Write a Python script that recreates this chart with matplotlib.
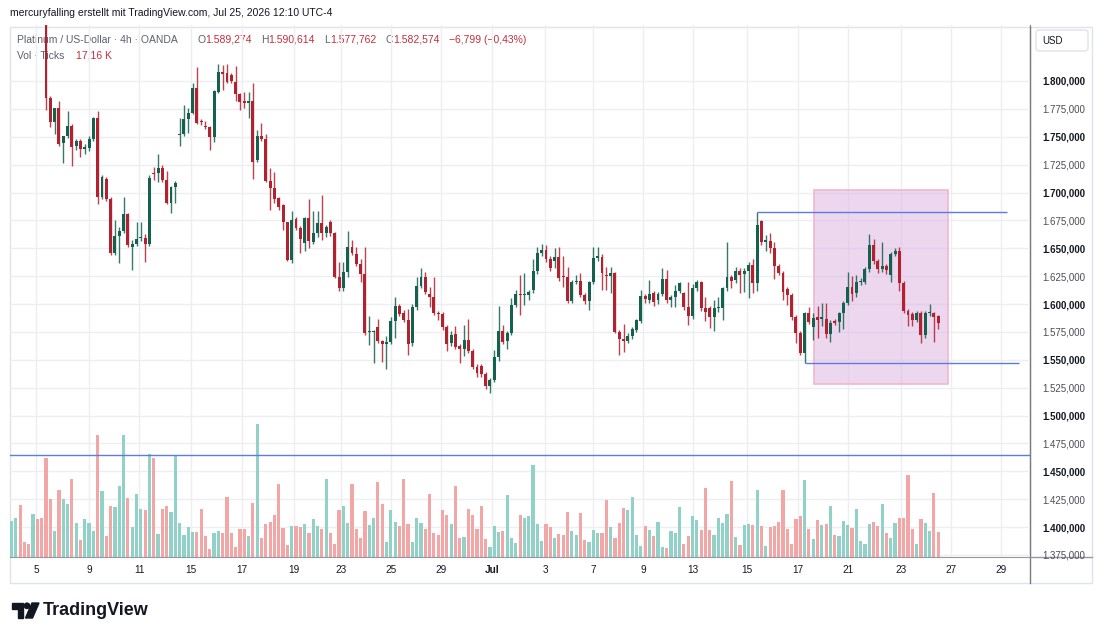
import numpy as np
import matplotlib
matplotlib.use("Agg")
import matplotlib.pyplot as plt
from matplotlib.patches import Rectangle, FancyBboxPatch, Polygon, Circle
from matplotlib.transforms import blended_transform_factory

plt.rcParams['font.family'] = ['Liberation Sans', 'DejaVu Sans']

# ---- 4h candles (price in USD) ----
opens = [
    1870, 1878, 1886, 1875, 1871, 1868, 1876, 1870, 1862, 1784.5,
    1763.5, 1775.5, 1744, 1750.7, 1759.7, 1741.7, 1746.2, 1738.8, 1739.6, 1748,
    1766.6, 1696.3, 1711.9, 1694.2, 1645.5, 1661, 1665.5, 1681, 1651.4, 1653.6,
    1658.9, 1658.9, 1653.8, 1717.8, 1717.3, 1722.3, 1711.2, 1690.9, 1705.2, 1752,
    1752.5, 1765.9, 1771.6, 1793.4, 1763.5, 1759.7, 1758.5, 1750, 1790.4, 1807.8,
    1807, 1805.4, 1799.4, 1788, 1782, 1780, 1782, 1729.2, 1750.7, 1747.7,
    1710.6, 1704.3, 1694.8, 1688.8, 1673.3, 1639.5, 1676.3, 1668.5, 1654.5, 1677,
    1655.9, 1663.4, 1673, 1663.4, 1673.3, 1663.4, 1624.5, 1614.1, 1628.5, 1651.4,
    1644.6, 1636, 1626.7, 1574.7, 1574.5, 1579.7, 1566.9, 1564, 1565.8, 1585,
    1598.2, 1591.7, 1585.7, 1564.8, 1597.1, 1616.2, 1624, 1609, 1606.6, 1592,
    1591, 1579.2, 1564.8, 1573.2, 1562.4, 1559.4, 1567.8, 1558.2, 1543.8, 1544.5,
    1537.3, 1526.2, 1532, 1552.8, 1575.8, 1567, 1573.8, 1599.2, 1608.7, 1608,
    1608, 1612.6, 1629.7, 1645.5, 1648.5, 1640.4, 1638.9, 1642.5, 1625, 1624.5,
    1602.7, 1620, 1620.7, 1608, 1602.7, 1619.5, 1641, 1642.5, 1626, 1625.2,
    1627.6, 1575.3, 1568.4, 1567.2, 1571, 1576.8, 1585, 1607.3, 1603.6, 1609.6,
    1603.6, 1609, 1622.2, 1603.6, 1606.6, 1612, 1609.6, 1597.1, 1589.3, 1614.7,
    1620, 1596.2, 1596.2, 1588.7, 1596.2, 1596.2, 1614.1, 1624, 1621.6, 1630,
    1627, 1630, 1635, 1618.6, 1674.5, 1655.4, 1656.8, 1650.6, 1634.1, 1628.2,
    1613.5, 1608, 1588.1, 1573.8, 1556.4, 1591.7, 1579.2, 1588.7, 1586.6, 1586.6,
    1573.2, 1585, 1583.7, 1591.7, 1601.2, 1615, 1609.6, 1619.5, 1620, 1631.4,
    1652.9, 1638.9, 1631, 1634, 1626, 1645, 1648, 1619, 1594, 1591,
    1586, 1592.3, 1572.3, 1592.3, 1591.7, 1589.274,
]
highs = [
    1884, 1892, 1890, 1879, 1874, 1880, 1879, 1873, 1866, 1786.5,
    1776, 1782, 1751, 1773, 1761, 1748, 1748, 1743.5, 1751, 1768,
    1773, 1715.7, 1714.2, 1696, 1675.4, 1669.4, 1696.3, 1682, 1657.4, 1673.9,
    1674, 1662.5, 1715.7, 1723.2, 1734.3, 1724.7, 1719.3, 1706, 1710, 1766.6,
    1778.5, 1775.5, 1797.9, 1812.8, 1766, 1764, 1760, 1792, 1815, 1814.3,
    1815, 1807, 1813.5, 1789, 1789.9, 1790, 1798.5, 1756.1, 1762.1, 1752.5,
    1721.7, 1718.7, 1696, 1690, 1674, 1683.7, 1678, 1670, 1678, 1693.9,
    1683.4, 1683.4, 1697.8, 1671, 1675, 1665, 1638, 1638, 1665.5, 1657.4,
    1651, 1640, 1651, 1589.3, 1577, 1586.3, 1568, 1571, 1588, 1606,
    1600, 1595, 1595.6, 1600, 1624.5, 1632, 1628.5, 1615.6, 1624, 1594,
    1593, 1581, 1576, 1580.5, 1564, 1581.2, 1586.3, 1560, 1546, 1546,
    1539, 1534, 1559, 1598.2, 1581, 1576, 1605, 1613, 1626, 1627.6,
    1613, 1640, 1651.4, 1653.8, 1652.5, 1643, 1650, 1651, 1643, 1633.5,
    1622, 1626, 1628, 1610, 1621, 1651.4, 1651.4, 1645, 1633, 1633,
    1629, 1577, 1582, 1574, 1579, 1587, 1612.5, 1609, 1622, 1612,
    1611, 1632, 1630.5, 1608, 1617, 1620, 1611, 1620, 1618, 1621.5,
    1621, 1606, 1598, 1604, 1606, 1615, 1655.4, 1626, 1633, 1632,
    1632, 1638, 1640, 1682.3, 1675.7, 1662, 1664, 1656, 1636, 1630,
    1615, 1610, 1590, 1576, 1593, 1597.1, 1592, 1598, 1600.6, 1600.5,
    1586, 1587, 1593, 1603, 1629, 1625, 1626, 1623, 1633, 1662.5,
    1658, 1640, 1656, 1636, 1647, 1650, 1651, 1621, 1596, 1593,
    1594, 1594, 1594, 1600, 1593, 1590.614,
]
lows = [
    1866, 1874, 1870, 1866, 1864, 1865, 1866, 1858, 1774, 1758.5,
    1752.5, 1741.7, 1726.2, 1749, 1723.8, 1738.1, 1732.1, 1734.5, 1737, 1746,
    1689.4, 1694, 1692.4, 1644, 1644, 1637, 1664, 1651.4, 1630.5, 1652,
    1656.5, 1638, 1652, 1711.2, 1709, 1709.5, 1690, 1681.4, 1690.4, 1741.7,
    1751, 1753, 1770, 1761, 1760.5, 1757, 1738.1, 1745.6, 1789, 1792,
    1798, 1798.5, 1782.4, 1774, 1775.5, 1766.6, 1711.9, 1727, 1746.5, 1709,
    1684.3, 1690.4, 1684, 1666.4, 1639, 1637, 1666, 1645.5, 1647.9, 1650.6,
    1654, 1660, 1657.4, 1660, 1661, 1623, 1612, 1612, 1624.5, 1644,
    1634, 1620, 1572, 1563.3, 1546.9, 1565, 1548.3, 1541.5, 1564, 1569.3,
    1589, 1584, 1554.3, 1562, 1595, 1614, 1609, 1597, 1590, 1585.7,
    1577, 1558.2, 1562, 1560, 1546.9, 1553, 1556, 1542, 1535, 1535,
    1523.9, 1520, 1530, 1549, 1564, 1560, 1572, 1597, 1590.2, 1599.2,
    1604, 1610, 1627, 1643, 1638, 1630, 1632, 1621, 1615, 1601,
    1600.5, 1618, 1606, 1600, 1594.7, 1618, 1639, 1613, 1613, 1609.6,
    1574, 1554.3, 1557, 1565, 1569, 1575, 1583, 1601, 1601, 1598,
    1600, 1607, 1601, 1597, 1597, 1610, 1595, 1581.2, 1587, 1612,
    1594, 1585, 1578.5, 1576.1, 1593, 1585.5, 1612, 1614.5, 1619, 1610,
    1611, 1605, 1610, 1612, 1653, 1648, 1646, 1622.2, 1626, 1604,
    1599.2, 1586, 1565, 1554, 1547.4, 1582, 1568, 1569.9, 1580, 1570,
    1566.3, 1581, 1575, 1578, 1599, 1603, 1606, 1617, 1618, 1629,
    1636, 1628, 1629, 1627, 1620, 1643, 1612, 1592, 1580.3, 1580,
    1584, 1564.8, 1570, 1589, 1566.3, 1577.762,
]
closes = [
    1878, 1886, 1875, 1871, 1868, 1876, 1870, 1862, 1784.5, 1763.5,
    1775.5, 1743.2, 1750.7, 1759.7, 1741.1, 1746.2, 1738.8, 1740.5, 1748, 1766.6,
    1696.3, 1714.2, 1694.2, 1645.5, 1661, 1665.5, 1681, 1653, 1653.6, 1658,
    1659.3, 1653.8, 1712.8, 1716.6, 1722.3, 1711.2, 1690.9, 1704.7, 1708.8, 1752.5,
    1765.9, 1771.6, 1793.4, 1762.6, 1762.8, 1758.5, 1750, 1791, 1807.8, 1806,
    1799.4, 1800.3, 1788, 1781.4, 1780, 1782, 1727.7, 1750.7, 1747.7, 1710.6,
    1704.3, 1694.2, 1686.8, 1673.3, 1639.5, 1675.4, 1668.5, 1658.3, 1677, 1656.6,
    1663.4, 1673, 1663.4, 1669, 1663.4, 1624.5, 1614.1, 1628.5, 1651.4, 1645.5,
    1636, 1626.7, 1573.8, 1575, 1575.5, 1566.9, 1564.2, 1565.8, 1585, 1598.2,
    1590.8, 1585.7, 1564.2, 1597.1, 1616.2, 1624, 1611.1, 1606, 1591.7, 1591,
    1579.2, 1564.2, 1572.3, 1561.9, 1559.4, 1567.8, 1558.2, 1543.8, 1538.5, 1537.3,
    1526.2, 1532, 1552.8, 1575.8, 1566.3, 1573.8, 1599.2, 1608.7, 1607.8, 1608.5,
    1611, 1629.7, 1646.1, 1648.5, 1640.4, 1632, 1642.5, 1623.1, 1624.5, 1602.7,
    1620, 1620.5, 1608, 1602.7, 1619.5, 1641, 1643.5, 1628.2, 1625.2, 1628,
    1575.3, 1568.4, 1567.2, 1571.4, 1577.5, 1585.7, 1607.3, 1604.3, 1609, 1602.1,
    1609, 1622.2, 1603.6, 1606.6, 1612, 1619, 1597.1, 1589.3, 1614.7, 1620,
    1596.2, 1593.2, 1588.7, 1596.2, 1597, 1614.1, 1624, 1620.7, 1630, 1626.1,
    1630, 1635, 1618.6, 1670.5, 1655.4, 1657.4, 1650, 1634.1, 1628.2, 1611,
    1608, 1588.1, 1573.8, 1556.4, 1591.7, 1584.2, 1587.2, 1585.7, 1588, 1573.2,
    1583.3, 1583.3, 1591.7, 1601.2, 1615.6, 1609, 1620, 1620.7, 1631.4, 1652.9,
    1638.9, 1631, 1634, 1630.5, 1645, 1648, 1619, 1594, 1590, 1586,
    1592.3, 1572.3, 1592.3, 1593, 1588.7, 1582.574,
]
# volume in thousand ticks
volumes = [
    24.5, 27.0, 35.7, 10.1, 9.2, 29.5, 26.1, 27.0, 67.6, 39.8,
    17.6, 45.8, 39.6, 36.6, 53.6, 23.4, 11.9, 25.9, 23.4, 17.6,
    83.6, 45.1, 14.2, 35.3, 34.1, 48.5, 84.0, 40.3, 20.4, 43.1,
    33.2, 32.1, 71.0, 67.6, 15.6, 33.2, 35.3, 30.7, 70.3, 23.4,
    14.9, 20.4, 17.2, 17.2, 32.7, 14.2, 5.5, 16.3, 17.6, 16.3,
    41.4, 16.3, 6.6, 19.5, 19.0, 14.2, 37.3, 91.1, 12.8, 22.9,
    23.8, 29.1, 49.9, 19.9, 8.0, 21.3, 21.3, 20.4, 22.9, 16.3,
    25.9, 21.1, 19.0, 53.6, 16.7, 9.2, 32.1, 35.3, 23.4, 49.9,
    19.5, 12.8, 31.6, 21.8, 26.6, 51.3, 36.6, 10.1, 32.1, 23.8,
    21.3, 53.6, 22.9, 10.1, 26.6, 23.4, 19.0, 43.5, 16.3, 15.1,
    32.1, 29.1, 22.4, 48.5, 13.3, 13.7, 32.7, 29.1, 19.0, 35.3,
    12.1, 6.6, 21.3, 16.9, 18.0, 42.4, 13.1, 9.6, 29.1, 27.0,
    27.9, 63.4, 22.4, 11.0, 22.9, 20.4, 13.1, 15.6, 15.3, 31.1,
    17.6, 14.9, 30.5, 11.5, 10.1, 18.3, 16.7, 16.7, 38.9, 20.4,
    13.3, 23.4, 33.7, 32.1, 41.2, 14.9, 7.3, 21.5, 18.8, 14.2,
    23.8, 7.1, 6.4, 17.6, 16.3, 34.6, 8.9, 14.2, 27.9, 25.2,
    18.3, 47.6, 18.3, 15.1, 27.0, 23.4, 29.5, 52.0, 13.7, 8.0,
    22.2, 22.9, 21.8, 45.8, 21.3, 7.3, 20.4, 21.1, 23.8, 45.8,
    19.5, 8.9, 26.3, 28.4, 53.1, 19.0, 12.1, 25.4, 22.2, 22.9,
    35.3, 14.9, 14.2, 24.5, 21.8, 20.2, 33.2, 11.0, 9.2, 22.9,
    23.8, 21.1, 36.6, 16.7, 12.8, 23.4, 26.8, 27.0, 56.1, 19.5,
    9.2, 25.9, 23.4, 17.6, 44.0, 17.16,
]

date_labels = ['5', '9', '11', '15', '17', '19', '23', '25', '29', 'Jul',
               '3', '7', '9', '13', '15', '17', '21', '23', '27', '29']
date_ticks = [5.7, 18.0, 29.6, 41.6, 53.5, 65.5, 76.5, 88.1, 99.7, 111.5,
              123.8, 134.9, 146.5, 158.1, 170.6, 182.5, 194.1, 206.4, 218.0, 229.6]
price_ticks = np.arange(1375, 1801, 25)

# drawings on the chart
resistance = 1682.3
support = 1547.4
alert_level = 1464.7
box_bottom, box_top = 1528.3, 1702.3
change_txt = '\u22126,799 (\u22120,43%)'

W, H = 1100, 639
GREEN, RED = '#14614e', '#b2212f'
VGREEN, VRED = '#92d1c7', '#f3a6a6'
BLUE = '#5d7ce0'
GRID = '#eceef2'
TXT = '#131722'
GRAYTXT = '#5d606b'
NUMRED = '#c22e3b'


def de_fmt(v):
    s = f"{v:,.3f}"
    return s.replace(",", "X").replace(".", ",").replace("X", ".")


o = np.array(opens)
h = np.array(highs)
l = np.array(lows)
c = np.array(closes)
idx = np.arange(len(o))
up = c >= o

fig = plt.figure(figsize=(W / 100, H / 100), dpi=100)

# pixel overlay for frame, header and logo
over = fig.add_axes([0, 0, 1, 1])
over.set_xlim(0, W)
over.set_ylim(H, 0)
over.axis('off')
over.set_zorder(-1)

rect = [10 / W, 1 - 557 / H, 1020 / W, 532 / H]
ax_v = fig.add_axes(rect)
ax = fig.add_axes(rect, sharex=ax_v)
ax_v.patch.set_visible(False)
ax.patch.set_visible(False)

ax.set_xlim(-0.35, 236.3)
ax.set_ylim(1373.2, 1850.2)
ax_v.set_ylim(0, 365)

# grid (vertical from shared x ticks, horizontal at price levels)
ax.set_xticks(date_ticks, date_labels)
ax_v.grid(axis='x', color=GRID, lw=1)
ax_v.grid(axis='y', visible=False)
tr = blended_transform_factory(ax_v.transAxes, ax.transData)
for p in price_ticks:
    ax_v.plot([0, 1], [p, p], color=GRID, lw=1, transform=tr, zorder=0)
ax_v.tick_params(labelbottom=False, labelleft=False, left=False, bottom=False)
for s in ax_v.spines.values():
    s.set_visible(False)

# volume
ax_v.bar(idx, volumes, width=0.74, color=np.where(up, VGREEN, VRED), zorder=2)

# drawings
ax.add_patch(Rectangle((186.3, box_bottom), 217.2 - 186.3, box_top - box_bottom,
                       facecolor='#dbb1e1', alpha=0.5, edgecolor='none', zorder=1))
ax.add_patch(Rectangle((186.3, box_bottom), 217.2 - 186.3, box_top - box_bottom,
                       facecolor='none', edgecolor='#f2b6cf', lw=1.2, zorder=1))
ax.hlines(resistance, 173, 231.0, color=BLUE, lw=1, zorder=5)
ax.hlines(support, 184, 233.8, color=BLUE, lw=1, zorder=5)
ax.axhline(alert_level, color=BLUE, lw=1, zorder=5)

# candles
cols = np.where(up, GREEN, RED)
ax.vlines(idx, l, h, colors=cols, lw=1.0, alpha=0.85, zorder=3)
body = np.maximum(np.abs(c - o), 0.9)
ax.bar(idx, body, bottom=np.minimum(o, c), width=0.68, color=cols, zorder=4)

# axes styling
for name, s in ax.spines.items():
    s.set_visible(name in ('right', 'bottom'))
ax.spines['right'].set_color('#787b86')
ax.spines['bottom'].set_color('#9598a1')
ax.yaxis.tick_right()
ax.set_yticks(price_ticks, [de_fmt(p) for p in price_ticks])
ax.tick_params(axis='y', length=0, pad=9, labelsize=7, labelcolor=TXT)
ax.tick_params(axis='x', length=0, pad=6, labelsize=7.2, labelcolor=TXT)
for lab, p in zip(ax.get_yticklabels(), price_ticks):
    if p % 50 == 0:
        lab.set_fontweight('bold')
    else:
        lab.set_color('#4a4d57')
for lab in ax.get_xticklabels():
    if lab.get_text() == 'Jul':
        lab.set_fontweight('bold')

# frame lines
over.add_patch(Rectangle((10, 27), 1082, 556, fill=False, edgecolor='#e0e3eb', lw=1))
over.plot([1030, 1030], [27, 583], color='#787b86', lw=1)
over.plot([1030, 1092], [557, 557], color='#9598a1', lw=1)
over.add_patch(FancyBboxPatch((1036, 30), 52, 21, boxstyle='round,pad=0,rounding_size=3',
                              facecolor='white', edgecolor='#e0e3eb', lw=1))
over.text(1042, 41, 'USD', fontsize=7, color=TXT, va='center')

# header
over.text(10, 13, 'mercuryfalling erstellt mit TradingView.com, Jul 25, 2026 12:10 UTC-4',
          fontsize=7.5, color=TXT, va='center')
over.text(17, 40, 'Platinum / US-Dollar · 4h · OANDA', fontsize=7.5, color=GRAYTXT, va='center')
fig.canvas.draw()
rend = fig.canvas.get_renderer()


def pair(x, y, key, val):
    t = over.text(x, y, key, fontsize=7.5, color=GRAYTXT, va='center')
    bb = t.get_window_extent(rend)
    over.text(x + bb.width, y, val, fontsize=7.5, color=NUMRED, va='center')


pair(197, 40, 'O', de_fmt(opens[-1]))
pair(261, 40, 'H', de_fmt(highs[-1]))
pair(324, 40, 'L', de_fmt(lows[-1]))
pair(386, 40, 'C', de_fmt(closes[-1]))
over.text(449, 40, change_txt, fontsize=7.5, color=NUMRED, va='center')
over.text(17, 56, 'Vol · Ticks', fontsize=7.5, color=GRAYTXT, va='center')
over.text(76, 56, f"{volumes[-1]:.2f}".replace('.', ',') + ' K', fontsize=7.5,
          color=NUMRED, va='center')

# TradingView logo
over.add_patch(Polygon([(12, 603), (23, 603), (23, 618), (17.5, 618), (17.5, 608.5), (12, 608.5)],
                       closed=True, color=TXT))
over.add_patch(Circle((27, 605.8), 2.7, color=TXT))
over.add_patch(Polygon([(32, 603), (39, 603), (32.5, 618), (25.5, 618)], closed=True, color=TXT))
over.text(43, 610.5, 'TradingView', fontsize=13, fontweight='bold', color=TXT, va='center')

fig.savefig('out.png', dpi=100)
